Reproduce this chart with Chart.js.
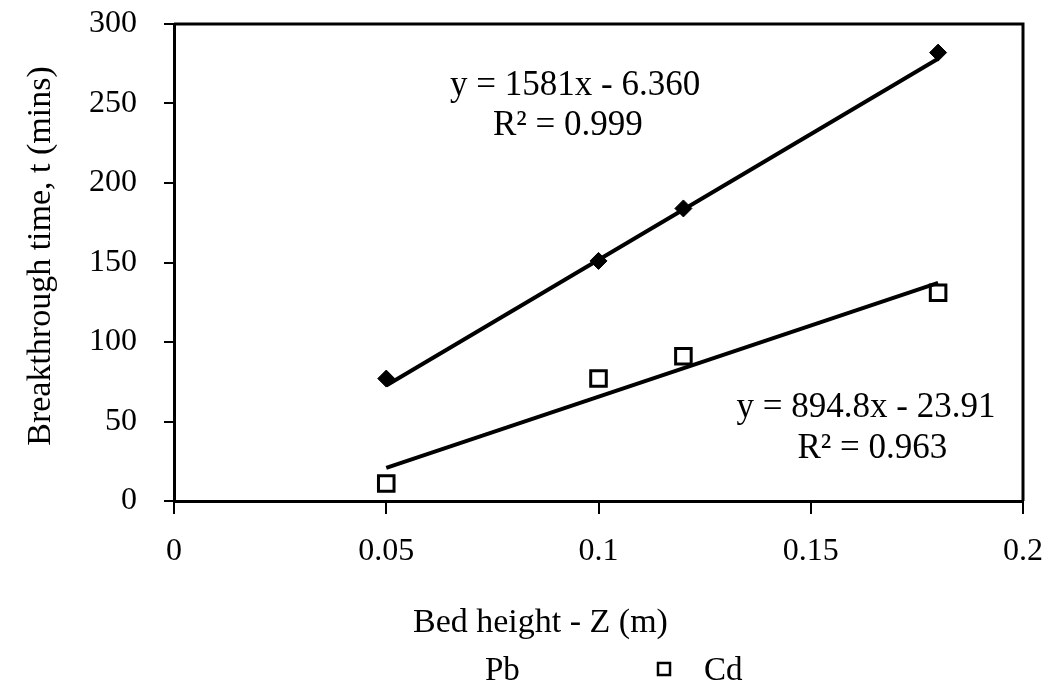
<!DOCTYPE html>
<html lang="en">
  <head>
    <meta charset="UTF-8" />
    <title>Breakthrough time vs bed height</title>
    <script src="https://cdn.jsdelivr.net/npm/chart.js@4.4.1/dist/chart.umd.min.js"></script>
    <style>
      body { margin: 0; background: #fff; }
      #wrap { width: 1045px; height: 686px; }
    </style>
  </head>
  <body>
    <div id="wrap"><canvas id="bedChart"></canvas></div>
    <script>
      // data
      const bedHeights = [0.05, 0.1, 0.12, 0.18];
      const pbTimes = [77, 151, 184, 282];
      const cdTimes = [11, 77, 91, 131];
      const trendHeights = [0.05, 0.18];
      const pbTrend = [72.7, 278.2];
      const cdTrend = [20.8, 137.2];
      const xTickLabels = ["0", "0.05", "0.1", "0.15", "0.2"];
      const yTickLabels = ["0", "50", "100", "150", "200", "250", "300"];
      const seriesNames = ["Pb", "Cd"];
      const xTitle = "Bed height - Z (m)";
      const yTitle = "Breakthrough time, t (mins)";
      // trendline labels, anchored in data units (x centre, baseline y)
      const equations = [
        { x: 0.0945, y: 255.3, text: "y = 1581x - 6.360" },
        { x: 0.0928, y: 230.2, text: "R² = 0.999" },
        { x: 0.163, y: 52.8, text: "y = 894.8x - 23.91" },
        { x: 0.1645, y: 27, text: "R² = 0.963" },
      ];

      const FONT = "Liberation Serif";

      const toPts = (xs, ys) => xs.map((x, i) => ({ x: x, y: ys[i] }));

      // box border, axis titles, trendline labels and the bottom legend
      const extras = {
        id: "extras",
        afterDatasetsDraw(chart) {
          const ctx = chart.ctx;
          const a = chart.chartArea;
          const xs = chart.scales.x;
          const ys = chart.scales.y;
          ctx.save();
          ctx.strokeStyle = "#000";
          ctx.lineWidth = 3;
          ctx.beginPath();
          ctx.moveTo(a.left, a.top);
          ctx.lineTo(a.right, a.top);
          ctx.lineTo(a.right, a.bottom);
          ctx.stroke();

          ctx.fillStyle = "#000";
          ctx.font = "35px '" + FONT + "'";
          ctx.textAlign = "center";
          ctx.textBaseline = "alphabetic";
          equations.forEach((e) => {
            ctx.fillText(e.text, xs.getPixelForValue(e.x), ys.getPixelForValue(e.y));
          });

          // axis titles
          ctx.font = "34px '" + FONT + "'";
          ctx.textAlign = "left";
          ctx.fillText(xTitle, 413, 632);
          ctx.save();
          ctx.translate(41, 256);
          ctx.rotate(-Math.PI / 2);
          ctx.textAlign = "center";
          ctx.textBaseline = "middle";
          ctx.fillText(yTitle, 0, 0);
          ctx.restore();

          // legend
          ctx.font = "33px '" + FONT + "'";
          ctx.textAlign = "left";
          ctx.fillText(seriesNames[0], 485, 680);
          ctx.lineWidth = 2.5;
          ctx.strokeRect(658, 663, 12, 12);
          ctx.fillText(seriesNames[1], 704, 680);
          ctx.restore();
        },
      };

      const ctx = document.getElementById("bedChart").getContext("2d");
      new Chart(ctx, {
        type: "scatter",
        data: {
          datasets: [
            {
              label: "Pb trend",
              data: toPts(trendHeights, pbTrend),
              showLine: true,
              borderColor: "#000",
              borderWidth: 4,
              pointRadius: 0,
            },
            {
              label: "Cd trend",
              data: toPts(trendHeights, cdTrend),
              showLine: true,
              borderColor: "#000",
              borderWidth: 4,
              pointRadius: 0,
            },
            {
              label: seriesNames[0],
              data: toPts(bedHeights, pbTimes),
              pointStyle: "rectRot",
              pointRadius: 8.5,
              backgroundColor: "#000",
              borderColor: "#000",
              borderWidth: 1,
            },
            {
              label: seriesNames[1],
              data: toPts(bedHeights, cdTimes),
              pointStyle: "rect",
              pointRadius: 11,
              backgroundColor: "#fff",
              borderColor: "#000",
              borderWidth: 3,
            },
          ],
        },
        options: {
          responsive: true,
          maintainAspectRatio: false,
          animation: false,
          layout: { padding: { top: 24, right: 22, left: 0, bottom: 0 } },
          plugins: {
            legend: { display: false },
            tooltip: { enabled: false },
          },
          scales: {
            x: {
              type: "linear",
              min: 0,
              max: 0.2,
              afterFit: (s) => {
                s.height = 185;
                s.paddingLeft = 0;
                s.paddingRight = 0;
              },
              afterBuildTicks: (s) => {
                s.ticks = xTickLabels.map((t) => ({ value: parseFloat(t) }));
              },
              ticks: {
                color: "#000",
                padding: 18,
                font: { family: FONT, size: 32 },
                callback: (v, i) => xTickLabels[i],
              },
              grid: {
                drawOnChartArea: false,
                tickLength: 13,
                color: "#000",
                lineWidth: 2,
              },
              border: { display: true, color: "#000", width: 3 },
            },
            y: {
              min: 0,
              max: 300,
              afterFit: (s) => {
                s.width = 174;
                s.paddingTop = 0;
                s.paddingBottom = 0;
              },
              afterBuildTicks: (s) => {
                s.ticks = yTickLabels.map((t) => ({ value: parseFloat(t) }));
              },
              ticks: {
                color: "#000",
                padding: 27,
                font: { family: FONT, size: 32 },
                callback: (v, i) => yTickLabels[i],
              },
              grid: {
                drawOnChartArea: false,
                tickLength: 10,
                color: "#000",
                lineWidth: 2,
              },
              border: { display: true, color: "#000", width: 3 },
            },
          },
        },
        plugins: [extras],
      });
    </script>
  </body>
</html>
